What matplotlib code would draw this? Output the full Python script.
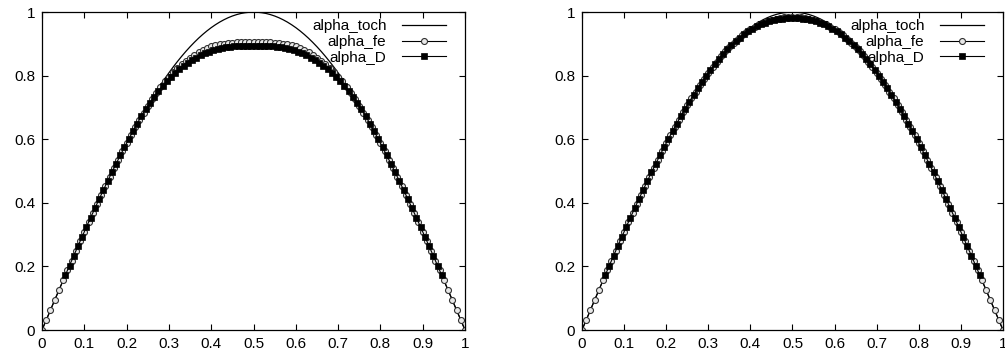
import numpy as np
import matplotlib
matplotlib.use('Agg')
import matplotlib.pyplot as plt

plt.rcParams['font.family'] = ['Liberation Sans', 'DejaVu Sans']
plt.rcParams['font.size'] = 11

# sample grids
x = np.linspace(0, 1, 101)
x_D = np.linspace(0.055, 0.945, 90)   # alpha_D sits between the fe nodes

# exact solution (same in both panels)
alpha_toch = [
    0.0, 0.0314, 0.0628, 0.0941, 0.1253, 0.1564, 0.1874, 0.2181, 0.2487, 0.2790,
    0.3090, 0.3387, 0.3681, 0.3971, 0.4258, 0.4540, 0.4818, 0.5090, 0.5358, 0.5621,
    0.5878, 0.6129, 0.6374, 0.6613, 0.6845, 0.7071, 0.7290, 0.7501, 0.7705, 0.7902,
    0.8090, 0.8271, 0.8443, 0.8607, 0.8763, 0.8910, 0.9048, 0.9178, 0.9298, 0.9409,
    0.9511, 0.9603, 0.9686, 0.9759, 0.9823, 0.9877, 0.9921, 0.9956, 0.9980, 0.9995,
    1.0,
    0.9995, 0.9980, 0.9956, 0.9921, 0.9877, 0.9823, 0.9759, 0.9686, 0.9603, 0.9511,
    0.9409, 0.9298, 0.9178, 0.9048, 0.8910, 0.8763, 0.8607, 0.8443, 0.8271, 0.8090,
    0.7902, 0.7705, 0.7501, 0.7290, 0.7071, 0.6845, 0.6613, 0.6374, 0.6129, 0.5878,
    0.5621, 0.5358, 0.5090, 0.4818, 0.4540, 0.4258, 0.3971, 0.3681, 0.3387, 0.3090,
    0.2790, 0.2487, 0.2181, 0.1874, 0.1564, 0.1253, 0.0941, 0.0628, 0.0314, 0.0]

# left panel
alpha_fe_1 = [
    0.0, 0.0314, 0.0628, 0.0941, 0.1253, 0.1564, 0.1874, 0.2181, 0.2487, 0.2790,
    0.3090, 0.3387, 0.3681, 0.3971, 0.4258, 0.4540, 0.4818, 0.5090, 0.5358, 0.5621,
    0.5878, 0.6129, 0.6374, 0.6612, 0.6840, 0.706, 0.727, 0.747, 0.765, 0.782,
    0.797, 0.811, 0.824, 0.836, 0.847, 0.857, 0.866, 0.874, 0.881, 0.887,
    0.892, 0.896, 0.899, 0.901, 0.903, 0.904, 0.905, 0.906, 0.906, 0.906,
    0.906,
    0.906, 0.906, 0.906, 0.905, 0.904, 0.903, 0.901, 0.899, 0.896, 0.892,
    0.887, 0.881, 0.874, 0.866, 0.857, 0.847, 0.836, 0.824, 0.811, 0.797,
    0.782, 0.765, 0.747, 0.727, 0.706, 0.6840, 0.6612, 0.6374, 0.6129, 0.5878,
    0.5621, 0.5358, 0.5090, 0.4818, 0.4540, 0.4258, 0.3971, 0.3681, 0.3387, 0.3090,
    0.2790, 0.2487, 0.2181, 0.1874, 0.1564, 0.1253, 0.0941, 0.0628, 0.0314, 0.0]

alpha_D_1 = [
    0.1719, 0.2028, 0.2334, 0.2639, 0.2940, 0.3239, 0.3535, 0.3827, 0.4115, 0.4399,
    0.4679, 0.4955, 0.5225, 0.5490, 0.5750, 0.6004, 0.6252, 0.6494, 0.6730, 0.6955,
    0.714, 0.734, 0.752, 0.768, 0.783, 0.797, 0.809, 0.821, 0.831, 0.841,
    0.849, 0.857, 0.864, 0.870, 0.876, 0.880, 0.884, 0.887, 0.889, 0.891,
    0.892, 0.893, 0.893, 0.893, 0.893,
    0.893, 0.893, 0.893, 0.893, 0.892, 0.891, 0.889, 0.887, 0.884, 0.880,
    0.876, 0.870, 0.864, 0.857, 0.849, 0.841, 0.831, 0.821, 0.809, 0.797,
    0.783, 0.768, 0.752, 0.734, 0.714, 0.6955, 0.6730, 0.6494, 0.6252, 0.6004,
    0.5750, 0.5490, 0.5225, 0.4955, 0.4679, 0.4399, 0.4115, 0.3827, 0.3535, 0.3239,
    0.2940, 0.2639, 0.2334, 0.2028, 0.1719]

# right panel
alpha_fe_2 = [
    0.0, 0.0314, 0.0628, 0.0941, 0.1253, 0.1564, 0.1874, 0.2181, 0.2487, 0.2790,
    0.3090, 0.3387, 0.3681, 0.3971, 0.4258, 0.4540, 0.4818, 0.5090, 0.5358, 0.5621,
    0.5878, 0.6129, 0.6374, 0.6613, 0.6845, 0.7071, 0.7290, 0.7501, 0.7705, 0.7902,
    0.8090, 0.8271, 0.8443, 0.8607, 0.8763, 0.8910, 0.904, 0.916, 0.927, 0.937,
    0.946, 0.954, 0.961, 0.967, 0.972, 0.976, 0.979, 0.982, 0.984, 0.985,
    0.985,
    0.985, 0.984, 0.982, 0.979, 0.976, 0.972, 0.967, 0.961, 0.954, 0.946,
    0.937, 0.927, 0.916, 0.904, 0.8910, 0.8763, 0.8607, 0.8443, 0.8271, 0.8090,
    0.7902, 0.7705, 0.7501, 0.7290, 0.7071, 0.6845, 0.6613, 0.6374, 0.6129, 0.5878,
    0.5621, 0.5358, 0.5090, 0.4818, 0.4540, 0.4258, 0.3971, 0.3681, 0.3387, 0.3090,
    0.2790, 0.2487, 0.2181, 0.1874, 0.1564, 0.1253, 0.0941, 0.0628, 0.0314, 0.0]

alpha_D_2 = [
    0.1719, 0.2028, 0.2334, 0.2639, 0.2940, 0.3239, 0.3535, 0.3827, 0.4115, 0.4399,
    0.4679, 0.4955, 0.5225, 0.5490, 0.5750, 0.6004, 0.6252, 0.6494, 0.6730, 0.6959,
    0.7181, 0.7396, 0.7604, 0.7804, 0.7997, 0.8181, 0.8358, 0.8526, 0.8686, 0.8838,
    0.897, 0.909, 0.920, 0.930, 0.940, 0.948, 0.955, 0.961, 0.967, 0.971,
    0.975, 0.977, 0.979, 0.980, 0.981,
    0.981, 0.980, 0.979, 0.977, 0.975, 0.971, 0.967, 0.961, 0.955, 0.948,
    0.940, 0.930, 0.920, 0.909, 0.897, 0.8838, 0.8686, 0.8526, 0.8358, 0.8181,
    0.7997, 0.7804, 0.7604, 0.7396, 0.7181, 0.6959, 0.6730, 0.6494, 0.6252, 0.6004,
    0.5750, 0.5490, 0.5225, 0.4955, 0.4679, 0.4399, 0.4115, 0.3827, 0.3535, 0.3239,
    0.2940, 0.2639, 0.2334, 0.2028, 0.1719]

xticks = [0, 0.1, 0.2, 0.3, 0.4, 0.5, 0.6, 0.7, 0.8, 0.9, 1]
yticks = [0, 0.2, 0.4, 0.6, 0.8, 1]

fig = plt.figure(figsize=(10.05, 3.58), dpi=100)
ax1 = fig.add_axes([0.0418, 0.0782, 0.4209, 0.888])
ax2 = fig.add_axes([0.5791, 0.0782, 0.4189, 0.888])

for ax, fe, D in [(ax1, alpha_fe_1, alpha_D_1), (ax2, alpha_fe_2, alpha_D_2)]:
    ax.plot(x, alpha_toch, color='black', lw=0.9, label='alpha_toch')
    ax.plot(x, fe, color='black', lw=0.8, marker='o', ms=4.3,
            mfc='#e8e8e8', mec='#303030', mew=0.8, label='alpha_fe')
    ax.plot(x_D, D, color='black', lw=0.8, marker='s', ms=4.0,
            mfc='black', mec='black', mew=0.5, label='alpha_D')
    ax.set_xlim(0, 1)
    ax.set_ylim(0, 1)
    ax.set_xticks(xticks)
    ax.set_yticks(yticks)
    ax.set_xticklabels(['%g' % t for t in xticks])
    ax.set_yticklabels(['%g' % t for t in yticks])
    ax.tick_params(direction='in', top=True, right=True, length=4, width=0.8,
                   pad=5, labelsize=11)
    for s in ax.spines.values():
        s.set_linewidth(0.9)
    ax.legend(loc='upper right', bbox_to_anchor=(0.955, 0.978), frameon=False,
              markerfirst=False, handlelength=2.9, handletextpad=1.0,
              labelspacing=0.12, borderaxespad=0, borderpad=0, fontsize=11)

fig.savefig('out.png', dpi=100)
